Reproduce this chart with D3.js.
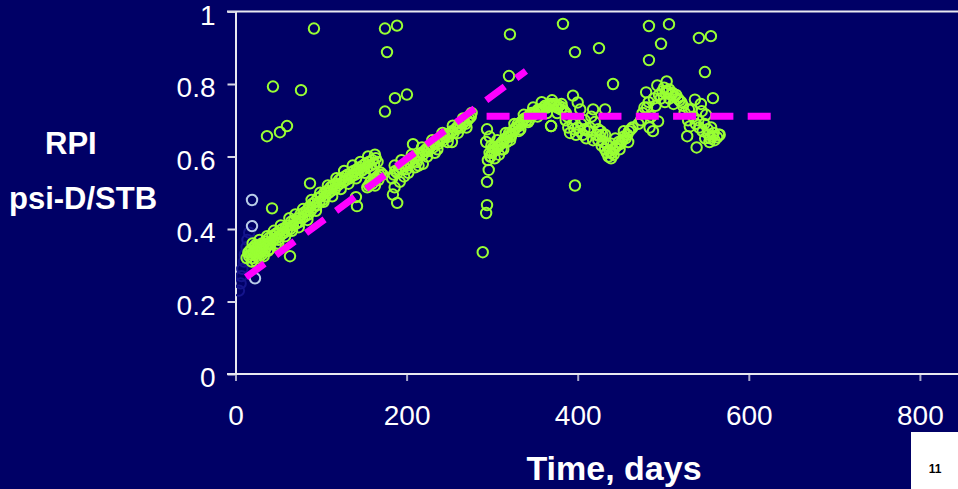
<!DOCTYPE html>
<html>
<head>
<meta charset="utf-8">
<script src="https://cdn.jsdelivr.net/npm/d3@7"></script>
<style>
  html, body { margin: 0; padding: 0; background: #000066; }
  svg { display: block; }
</style>
</head>
<body>
<svg id="chart" width="958" height="489"></svg>
<script>
// ---------------- DATA ----------------
const xTicks = [0, 200, 400, 600, 800];
const yTicks = [0, 0.2, 0.4, 0.6, 0.8, 1];
const xTickLabels = ["0", "200", "400", "600", "800"];
const yTickLabels = ["0", "0.2", "0.4", "0.6", "0.8", "1"];
const yLabelLines = ["RPI", "psi-D/STB"];
const xLabel = "Time, days";
const pageNumber = "11";

// measured RPI points (days, psi-D/STB)
const greenPoints = [
  // early cluster + first rising band
  [13,.32],[15,.335],[19,.31],[23,.355],[27,.32],[31,.33],[38,.34],[47,.355],[50,.36],
  [16,.325],[17,.34],[18,.33],[19,.345],[20,.32],[21,.335],[22,.35],[23,.33],[24,.345],[25,.325],
  [26,.34],[27,.355],[28,.335],[29,.35],[30,.34],[31,.36],[32,.345],[33,.355],[34,.34],[35,.365],
  [36,.35],[38,.36],[39,.375],[41,.36],[43,.38],[44,.37],[46,.385],[48,.375],[49,.39],[51,.38],
  [52,.395],[54,.385],[55,.40],[57,.39],[59,.405],[60,.395],[62,.41],[64,.40],[65,.42],[67,.41],
  [69,.425],[71,.415],[73,.43],[75,.42],[76,.44],[78,.43],[80,.445],[81,.435],[83,.45],[85,.44],
  [86,.46],[88,.45],[90,.47],[91,.46],[93,.475],[95,.465],[96,.485],[98,.475],[100,.49],[102,.48],
  [104,.50],[105,.49],[107,.505],[109,.50],[111,.515],[112,.505],[114,.52],[116,.51],[117,.525],
  [119,.52],[121,.535],[122,.525],[124,.54],[126,.53],[128,.545],[129,.535],[131,.55],[133,.54],
  [135,.555],[136,.545],[138,.56],[140,.55],[142,.565],[143,.555],[145,.57],[147,.56],[149,.575],
  [150,.565],[152,.58],[154,.57],[156,.585],[158,.575],[160,.59],[162,.58],[164,.595],[166,.585],
  [20,.36],[24,.31],[28,.37],[33,.325],[37,.38],[40,.345],[45,.395],[50,.37],[53,.41],[58,.38],
  [63,.43],[66,.395],[70,.44],[74,.405],[79,.455],[84,.425],[89,.48],[94,.45],[99,.50],[103,.475],
  [108,.52],[113,.49],[118,.54],[123,.51],[127,.56],[132,.525],[137,.575],[141,.54],[146,.585],
  [151,.555],[155,.60],[159,.565],[163,.605],
  // small cluster along the trend line
  [154,.515],[156,.52],[158,.53],[160,.525],[162,.535],[164,.54],[166,.545],[168,.55],[170,.555],
  [172,.55],[167,.535],[163,.52],
  // second rising band
  [183,.54],[185,.55],[187,.56],[189,.555],[191,.565],[193,.57],[195,.565],[197,.575],[199,.58],
  [201,.575],[203,.585],[205,.59],[207,.585],[209,.595],[211,.60],[213,.595],[215,.605],[217,.61],
  [219,.605],[221,.615],[223,.62],[225,.615],[227,.625],[229,.63],[231,.625],[233,.635],[235,.64],
  [237,.635],[239,.645],[241,.65],[243,.645],[245,.655],[247,.66],[249,.655],[251,.665],[253,.67],
  [255,.665],[257,.675],[259,.68],[261,.685],[263,.68],[265,.69],[267,.695],[269,.69],[271,.70],
  [273,.705],[275,.71],
  [192,.53],[197,.545],[202,.555],[210,.57],[214,.575],[219,.58],[233,.61],[253,.64],[184,.495],
  [189,.472],[186,.515],
  [186,.575],[194,.59],[200,.565],[206,.605],[212,.585],[218,.625],[224,.60],[230,.645],[236,.62],
  [242,.665],[248,.64],[254,.685],[260,.665],[266,.705],[270,.68],[276,.72],
  // shut-in / restart column
  [289,.336],[293,.444],[294,.466],[294,.53],[296,.563],[295,.59],[297,.61],[293,.64],[294,.675],
  [298,.60],[299,.63],[297,.655],
  // third band
  [298,.60],[300,.61],[302,.615],[304,.62],[306,.625],[308,.63],[310,.635],[312,.64],[314,.645],
  [316,.65],[318,.655],[320,.665],[322,.66],[324,.67],[326,.675],[328,.68],[330,.69],[332,.685],
  [334,.695],[336,.70],[338,.705],[340,.70],[342,.71],[344,.715],[346,.72],[348,.715],[350,.72],
  [352,.725],[354,.73],[356,.725],[358,.73],[360,.735],[362,.74],[364,.735],[366,.74],[368,.745],
  [370,.74],[372,.745],[374,.74],[376,.735],[378,.74],[380,.73],[382,.735],[384,.725],[386,.72],
  [388,.71],
  [303,.595],[308,.605],[313,.62],[317,.64],[322,.655],[333,.675],[343,.70],[369,.684],
  [301,.625],[306,.645],[311,.62],[316,.665],[321,.645],[326,.69],[331,.67],[337,.715],[342,.695],
  [348,.735],[353,.71],[358,.75],[364,.72],[370,.755],[376,.72],[381,.745],
  // scatter after plateau
  [386,.70],[389,.68],[391,.665],[394,.69],[396,.675],[398,.66],[400,.68],[402,.67],[404,.69],
  [406,.66],[408,.675],[410,.65],[412,.67],[414,.68],[403,.73],[418,.73],[408,.70],[416,.71],
  [420,.695],[422,.66],[424,.675],[418,.645],[400,.749],
  // dip and recovery
  [424,.645],[426,.655],[428,.63],[430,.64],[432,.73],[432,.62],[434,.61],[435,.63],[436,.60],
  [437,.615],[439,.595],[440,.61],[441,.62],[442,.605],[444,.625],[446,.63],[448,.64],[450,.635],
  [452,.645],[454,.655],[456,.65],[458,.66],[460,.67],[462,.675],[464,.68],[459,.64],[449,.62],
  [439,.635],[429,.66],[427,.67],[432,.66],[444,.65],[454,.67],
  // late clusters
  [471,.69],[474,.70],[476,.72],[478,.735],[480,.777],[481,.735],[483,.75],[484,.68],[486,.71],
  [488,.67],[489,.76],[491,.74],[493,.796],[494,.697],[495,.77],
  [497,.76],[499,.78],[501,.79],[503,.775],[504,.807],[505,.78],[507,.785],[509,.77],[511,.775],
  [513,.765],[515,.77],[517,.76],[519,.755],[521,.75],[502,.75],[512,.745],[507,.76],
  [523,.74],[525,.72],[528,.656],[529,.70],[531,.683],[533,.73],[535,.71],[537,.757],[538,.69],
  [539,.625],[541,.70],[542,.68],[545,.725],[546,.67],[548,.69],[549,.65],[552,.675],[553,.66],
  [554,.64],[555,.65],[558,.656],[559,.665],[560,.645],[563,.653],[565,.66],[566,.66],[556,.68],
  [550,.715],[544,.745],[530,.73],
  // outliers
  [91.7,.953],[43.8,.793],[76.6,.783],[36.8,.656],[52,.667],[60.2,.684],[174.7,.953],[188.8,.961],
  [177.1,.888],[186.4,.761],[200.4,.771],[174.7,.724],[320.8,.937],[319.7,.822],[87.1,.526],
  [207.5,.634],[382.8,.966],[396.8,.888],[424.9,.899],[483.3,.96],[506.7,.965],[497.4,.911],
  [483.3,.866],[541.7,.927],[555.7,.932],[548.7,.833],[441.3,.80],[396.8,.52],[394.5,.768],
  [558.1,.761],[368.8,.684],[63.7,.325],[42.7,.457],[142,.463],[140.8,.488]
];

const lightBluePoints = [[19.3,.48],[19.3,.408],[22.8,.264]];
const darkBluePoints = [[4,.23],[6,.25],[7,.27],[8,.29],[10,.31],[11,.33],[13,.35],[14,.37],[16,.39]];

// fitted trend lines [days, RPI]
const trendRising = [[12.3,.267],[339.5,.836]];
const trendFlat = [[293.5,.711],[626,.711]];

// ---------------- CHART ----------------
const svg = d3.select("#chart");
const W = 958, H = 489;
svg.append("rect").attr("width", W).attr("height", H).attr("fill", "#000066");

const x = d3.scaleLinear().domain([0, 1000]).range([235.5, 1091]);
const y = d3.scaleLinear().domain([0, 1]).range([374, 11.5]);

svg.append("defs").append("clipPath").attr("id", "plotclip")
  .append("rect").attr("x", 236).attr("y", 0).attr("width", W - 236).attr("height", 374);

// top border
svg.append("line")
  .attr("x1", 227).attr("x2", W).attr("y1", y(1)).attr("y2", y(1))
  .attr("stroke", "#e8e8f0").attr("stroke-width", 2);

// Y axis
const yAxis = svg.append("g").attr("transform", `translate(${x(0)},0)`)
  .call(d3.axisLeft(y).tickValues(yTicks).tickFormat((d, i) => yTickLabels[i]).tickSize(8).tickSizeOuter(0).tickPadding(12));
yAxis.select(".domain").attr("stroke", "#e8e8f0").attr("stroke-width", 2);
yAxis.selectAll(".tick line").attr("stroke", "#d8d8e4").attr("stroke-width", 2);
yAxis.selectAll(".tick text")
  .attr("fill", "#ffffff").attr("font-family", "Liberation Sans, Arial, sans-serif")
  .attr("font-size", 28).attr("dy", "0.45em");

// X axis
const xAxis = svg.append("g").attr("transform", `translate(0,${y(0)})`)
  .call(d3.axisBottom(x).tickValues(xTicks).tickFormat((d, i) => xTickLabels[i]).tickSize(7).tickSizeOuter(0).tickPadding(24));
xAxis.select(".domain").remove();
xAxis.selectAll(".tick line").attr("stroke", "#a8a8c8").attr("stroke-width", 2);
xAxis.selectAll(".tick text")
  .attr("fill", "#ffffff").attr("font-family", "Liberation Sans, Arial, sans-serif")
  .attr("font-size", 28);
svg.append("line")
  .attr("x1", 227).attr("x2", W).attr("y1", y(0)).attr("y2", y(0))
  .attr("stroke", "#e8e8f0").attr("stroke-width", 2);

// markers
const R = 5.2, SW = 2;
const plot = svg.append("g").attr("clip-path", "url(#plotclip)");
plot.selectAll("circle.db").data(darkBluePoints).enter().append("circle")
  .attr("class", "db").attr("cx", d => x(d[0])).attr("cy", d => y(d[1])).attr("r", R)
  .attr("fill", "none").attr("stroke", "#14148c").attr("stroke-width", SW);
plot.selectAll("circle.lb").data(lightBluePoints).enter().append("circle")
  .attr("class", "lb").attr("cx", d => x(d[0])).attr("cy", d => y(d[1])).attr("r", R)
  .attr("fill", "none").attr("stroke", "#b8cce8").attr("stroke-width", SW);
plot.selectAll("circle.g").data(greenPoints).enter().append("circle")
  .attr("class", "g").attr("cx", d => x(d[0])).attr("cy", d => y(d[1])).attr("r", R)
  .attr("fill", "none").attr("stroke", "#99ff33").attr("stroke-width", SW);

// trend lines
const line = d3.line().x(d => x(d[0])).y(d => y(d[1]));
[trendRising, trendFlat].forEach(t => {
  plot.append("path").datum(t).attr("d", line)
    .attr("fill", "none").attr("stroke", "#ff00ff").attr("stroke-width", 7)
    .attr("stroke-dasharray", "23,14.3");
});

// axis titles
const titleFont = "Liberation Sans, Arial, sans-serif";
svg.append("text").attr("x", 45).attr("y", 154).text(yLabelLines[0])
  .attr("fill", "#fff").attr("font-family", titleFont).attr("font-weight", "bold").attr("font-size", 31);
svg.append("text").attr("x", 9).attr("y", 209).text(yLabelLines[1])
  .attr("fill", "#fff").attr("font-family", titleFont).attr("font-weight", "bold").attr("font-size", 31);
svg.append("text").attr("x", 614).attr("y", 480).attr("text-anchor", "middle").text(xLabel)
  .attr("fill", "#fff").attr("font-family", titleFont).attr("font-weight", "bold").attr("font-size", 34);

// page-number box
svg.append("rect").attr("x", 911).attr("y", 432).attr("width", 47).attr("height", 57).attr("fill", "#ffffff");
svg.append("text").attr("x", 935).attr("y", 472.5).attr("text-anchor", "middle").text(pageNumber)
  .attr("fill", "#000").attr("font-family", titleFont).attr("font-weight", "bold").attr("font-size", 12);
</script>
</body>
</html>
